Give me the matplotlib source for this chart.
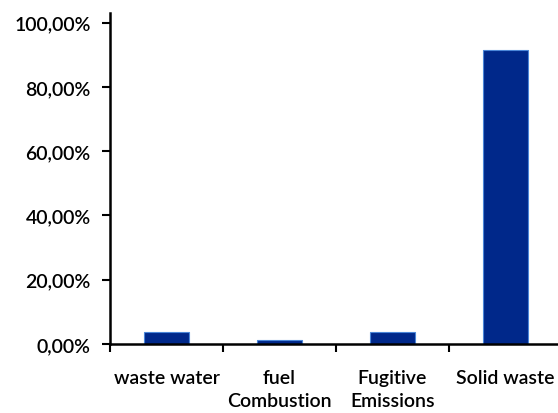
import numpy as np
from matplotlib import pyplot as plt

categories = ["waste water", "fuel\nCombustion", "Fugitive\nEmissions", "Solid waste"]
shares = [3.7, 1.2, 3.7, 91.6]
yticks = [0, 20, 40, 60, 80, 100]

plt.rcParams['font.family'] = ['Lato', 'DejaVu Sans']

fig = plt.figure(figsize=(5.58, 4.14), dpi=100)
ax = fig.add_axes([110 / 558, 1 - 345 / 414, 452 / 558, (345 - 14) / 414])

x = np.arange(len(categories))
ax.bar(x, shares, width=0.4, color="#00288A", edgecolor="#4A86D8", linewidth=0.8)

ax.set_xlim(-0.5, 3.5)
ax.set_ylim(0, 103)
ax.set_yticks(yticks)
ax.set_yticklabels([f"{v},00%" for v in yticks], fontsize=14, fontweight="semibold")

# category separators as x ticks
ax.set_xticks(np.arange(len(categories) + 1) - 0.5)
ax.set_xticklabels([])
ax.set_xticks(x, minor=True)
ax.set_xticklabels(categories, minor=True, fontsize=14, fontweight="semibold",
                   linespacing=1.45, va="top")
ax.tick_params(axis="x", which="minor", length=0, pad=18)
ax.tick_params(axis="x", which="major", length=6, width=1.5, direction="out")
ax.tick_params(axis="y", length=6, width=1.5, direction="out", pad=8)

for s in ["top", "right"]:
    ax.spines[s].set_visible(False)
for s in ["left", "bottom"]:
    ax.spines[s].set_linewidth(1.8)

plt.savefig("out.png", dpi=100)
